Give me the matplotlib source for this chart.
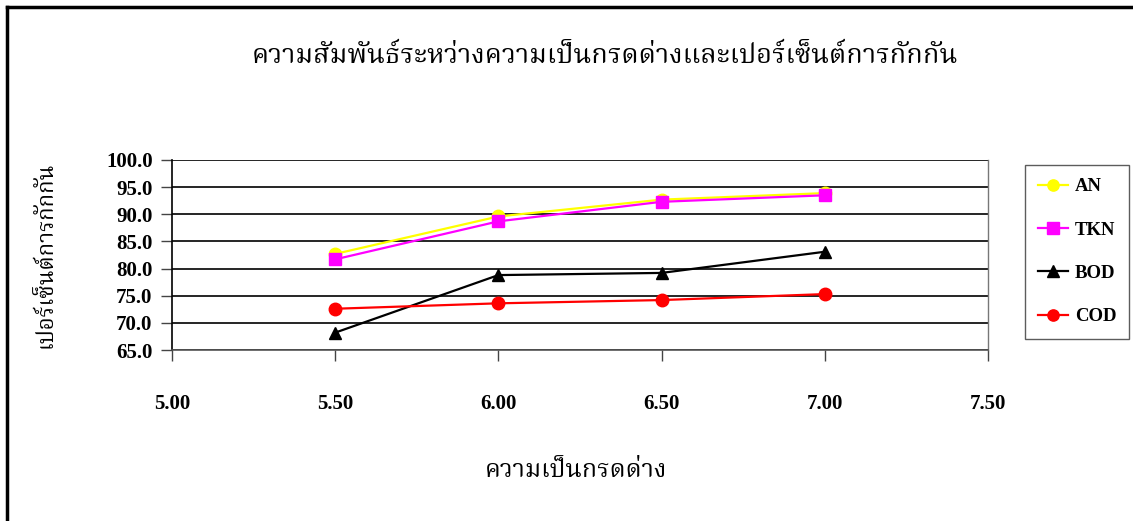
import matplotlib
matplotlib.use("Agg")
import matplotlib.pyplot as plt
from matplotlib.lines import Line2D

THAI = ["Noto Serif Thai", "DejaVu Sans"]
NUM = ["Liberation Serif", "DejaVu Serif"]

ph = [5.50, 6.00, 6.50, 7.00]
an = [82.7, 89.6, 92.7, 93.9]
tkn = [81.7, 88.7, 92.3, 93.5]
bod = [68.2, 78.8, 79.2, 83.1]
cod = [72.6, 73.6, 74.2, 75.3]

series_names = ["AN", "TKN", "BOD", "COD"]
x_ticks = [5.00, 5.50, 6.00, 6.50, 7.00, 7.50]
y_ticks = [65.0, 70.0, 75.0, 80.0, 85.0, 90.0, 95.0, 100.0]

title = "ความสัมพันธ์ระหว่างความเป็นกรดด่างและเปอร์เซ็นต์การกักกัน"
x_label = "ความเป็นกรดด่าง"
y_label = "เปอร์เซ็นต์การกักกัน"

styles = [
    dict(color="#ffff00", marker="o", ms=9),
    dict(color="#ff00ff", marker="s", ms=9),
    dict(color="#000000", marker="^", ms=9),
    dict(color="#ff0000", marker="o", ms=9),
]

fig = plt.figure(figsize=(11.33, 5.21), dpi=100)
ax = fig.add_axes([0.1518, 0.3282, 0.7202, 0.3647])

lines = []
for vals, name, st in zip([an, tkn, bod, cod], series_names, styles):
    ln, = ax.plot(ph, vals, color=st["color"], lw=1.6, marker=st["marker"],
                  markersize=st["ms"], markerfacecolor=st["color"],
                  markeredgecolor=st["color"], label=name, zorder=3)
    lines.append(ln)

ax.set_xlim(5.0, 7.5)
ax.set_ylim(65.0, 100.0)
ax.set_xticks(x_ticks)
ax.set_yticks(y_ticks)
ax.set_xticklabels(["%.2f" % v for v in x_ticks])
ax.set_yticklabels(["%.1f" % v for v in y_ticks])
for lab in ax.get_xticklabels() + ax.get_yticklabels():
    lab.set_family(NUM)
    lab.set_fontweight("bold")
    lab.set_fontsize(15)

ax.yaxis.grid(True, color="#000000", lw=1.2)
ax.set_axisbelow(True)
ax.tick_params(axis="x", direction="out", length=8, width=1, color="#444444", pad=24)
ax.tick_params(axis="y", direction="out", length=8, width=1, color="#444444", pad=6)
ax.spines["top"].set_visible(False)
ax.spines["right"].set_visible(False)
ax.spines["left"].set_color("#000000")
ax.spines["left"].set_linewidth(1.2)
ax.spines["bottom"].set_color("#555555")
ax.spines["bottom"].set_linewidth(1.2)
# thin closing line at the right end of the x range
ax.plot([7.5, 7.5], [65.0, 100.0], color="#777777", lw=1, clip_on=False, zorder=1)

ax.set_ylabel(y_label, family=THAI, fontsize=16)
ax.yaxis.set_label_coords(-0.141, 0.5)

fig.text(0.534, 0.893, title, family=THAI, fontsize=19.5, ha="center", va="center")
fig.text(0.508, 0.096, x_label, family=THAI, fontsize=18, ha="center", va="center")

leg = fig.legend(handles=lines, labels=series_names, loc="upper left",
                 bbox_to_anchor=(0.9047, 0.6833), borderaxespad=0.0,
                 frameon=True, fancybox=False, edgecolor="#333333",
                 handlelength=1.6, labelspacing=1.4, borderpad=0.7,
                 handletextpad=0.35, markerscale=0.9,
                 prop=dict(family=NUM, weight="bold", size=13.5))
leg.get_frame().set_linewidth(1.0)

# page border on the left and top edges
fig.add_artist(Line2D([0.0066, 0.0066], [0.0, 0.986], color="black", lw=2.5,
                      transform=fig.transFigure))
fig.add_artist(Line2D([0.0066, 1.0], [0.986, 0.986], color="black", lw=2.5,
                      transform=fig.transFigure))

fig.savefig("out.png", dpi=100)
